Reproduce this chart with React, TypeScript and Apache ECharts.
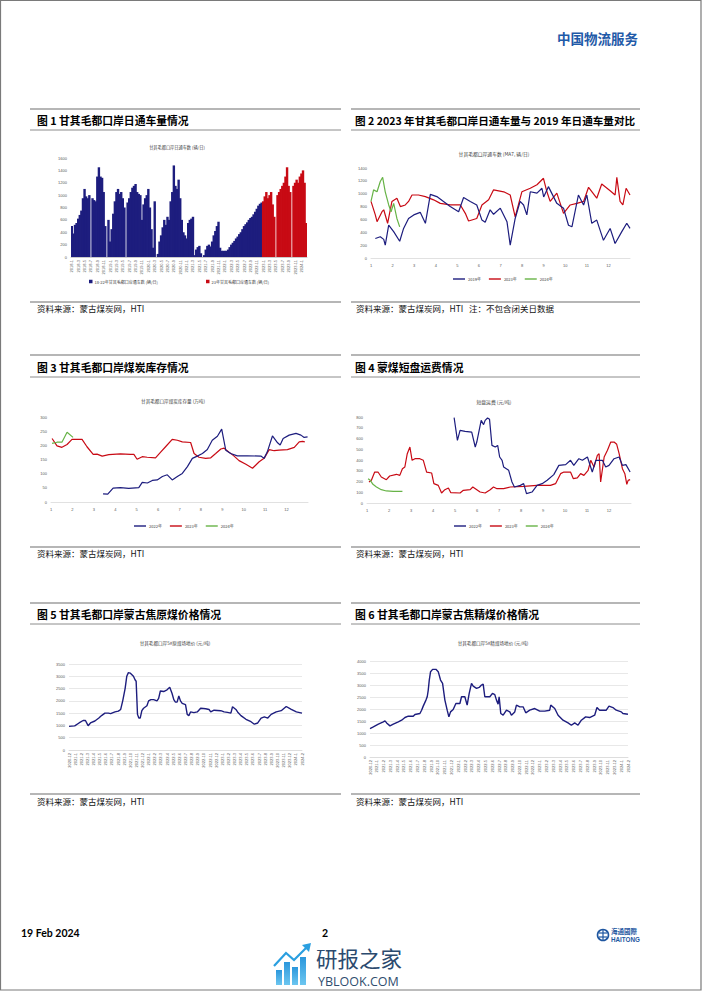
import React, { useEffect, useRef } from "react";
import * as echarts from "echarts";

// ---------------- data ----------------
// Fig 1: half-month bars, 2018-1 .. 2022-12 (blue) and 2023-1 .. 2024-2 (red)
const fig1Blue = [
  500, 380, 520, 550, 620, 680, 750, 950, 1100, 980, 950, 1000,
  0, 950, 920, 900, 1300, 1450, 1300, 1280, 1050, 500, 0, 600,
  250, 450, 700, 900, 1050, 1100, 1020, 1050, 950, 800, 0, 880,
  950, 1050, 1120, 1150, 1180, 1050, 1020, 1000, 600, 850, 950, 1000,
  1100, 800, 450, 150, 900, 0, 50, 250, 350, 480, 600, 520,
  650, 600, 900, 1050, 1480, 1150, 1100, 1250, 950, 600, 400, 350,
  300, 550, 600, 620, 650, 30, 120, 160, 180, 60, 0, 30,
  120, 180, 200, 170, 250, 350, 420, 500, 570, 150, 100, 100,
  100, 100, 120, 160, 200, 230, 260, 300, 330, 370, 400, 450,
  500, 530, 560, 600, 630, 650, 690, 730, 780, 830, 860, 880,
];
const fig1Red = [
  900, 980, 1050, 950, 1000, 1050, 850, 650, 0, 1000, 1050, 1100, 1150, 1200,
  1300, 1450, 1150, 1050, 0, 1150, 1200, 1250, 1200, 1300, 1350, 1400, 1200, 550,
];
const fig1Years = [2018, 2019, 2020, 2021, 2022, 2023, 2024];

// Fig 2: MA7 daily vehicles, [month, value]
const fig2Y2019 = [
  [1.2, 303], [1.43, 330], [1.59, 290], [1.66, 200], [1.82, 510], [2.05, 410], [2.33, 260], [2.51, 460],
  [2.74, 615], [2.98, 670], [3.28, 710], [3.52, 540], [3.75, 990], [4.05, 955], [4.36, 880], [4.67, 800],
  [5.06, 720], [5.29, 940], [5.6, 880], [5.9, 825], [6.14, 590], [6.29, 555], [6.52, 750], [6.68, 680],
  [6.99, 775], [7.3, 565], [7.45, 200], [7.68, 615], [7.91, 880], [8.07, 825], [8.22, 670], [8.38, 1030],
  [8.69, 1010], [8.92, 1085], [9.0, 950], [9.22, 1110], [9.61, 850], [9.92, 775], [10.15, 510], [10.31, 485],
  [10.61, 980], [10.85, 825], [11.0, 980], [11.23, 540], [11.46, 590], [11.77, 275], [12.08, 460], [12.31, 225],
  [12.62, 410], [12.85, 540], [13.0, 460],
];
const fig2Y2023 = [
  [1.0, 880], [1.2, 670], [1.28, 565], [1.51, 720], [1.59, 750], [1.77, 540], [1.97, 880], [2.2, 930],
  [2.36, 800], [2.59, 825], [2.74, 880], [2.9, 980], [3.2, 980], [3.52, 955], [3.9, 905], [4.21, 850],
  [4.67, 825], [5.14, 825], [5.37, 695], [5.52, 575], [5.9, 615], [6.14, 825], [6.45, 905], [6.68, 1060],
  [7.15, 1030], [7.45, 980], [7.68, 640], [7.99, 1030], [8.38, 1085], [8.69, 1140], [8.99, 1240], [9.15, 1030],
  [9.3, 880], [9.61, 1010], [9.92, 695], [10.23, 825], [10.54, 850], [10.85, 880], [11.08, 1100], [11.46, 930],
  [11.69, 1150], [12.08, 1045], [12.31, 980], [12.39, 1255], [12.54, 880], [12.67, 825], [12.82, 1085], [13.0, 980],
];
const fig2Y2024 = [
  [1.0, 880], [1.12, 1060], [1.28, 1030], [1.43, 1190], [1.54, 1255], [1.66, 1030], [1.82, 825], [1.93, 720],
  [2.05, 850], [2.2, 615], [2.33, 485],
];

// Fig 3: coal stock (10k t), [month, value]
const fig3Y2022 = [
  [3.43, 29], [3.65, 28], [3.9, 49], [4.24, 51], [4.63, 48], [4.95, 50], [5.1, 51], [5.26, 69], [5.5, 67],
  [5.73, 76], [5.96, 78], [6.2, 90], [6.43, 96], [6.66, 78], [6.9, 90], [7.13, 101], [7.37, 125], [7.6, 154],
  [7.83, 162], [8.07, 171], [8.3, 185], [8.53, 218], [8.77, 232], [8.97, 257], [9.16, 183], [9.39, 171],
  [9.7, 163], [10.17, 163], [10.8, 162], [10.95, 154], [11.1, 177], [11.34, 233], [11.58, 209], [11.7, 201],
  [11.84, 224], [12.12, 236], [12.44, 242], [12.67, 236], [12.82, 228], [12.98, 230],
];
const fig3Y2023 = [
  [1.05, 224], [1.28, 198], [1.51, 193], [1.75, 203], [1.98, 221], [2.45, 221], [2.68, 195], [2.97, 168],
  [3.15, 169], [3.39, 162], [3.7, 167], [4.24, 170], [4.71, 168], [4.87, 168], [5.02, 151], [5.26, 160],
  [5.49, 158], [5.88, 156], [6.12, 176], [6.35, 195], [6.66, 221], [6.9, 218], [7.13, 212], [7.52, 210],
  [7.68, 171], [7.91, 158], [8.22, 154], [8.46, 156], [8.69, 171], [8.93, 187], [9.08, 190], [9.31, 176],
  [9.55, 162], [9.78, 146], [10.1, 133], [10.41, 119], [10.72, 142], [10.95, 154], [11.19, 185], [11.42, 181],
  [11.65, 183], [12.04, 185], [12.36, 193], [12.59, 212], [12.75, 214], [12.85, 212],
];
const fig3Y2024 = [[1.05, 207], [1.28, 211], [1.51, 211], [1.75, 246], [2.03, 228]];

// Fig 4: short-haul freight (yuan/t), [month, value]
const fig4Y2022 = [
  [4.96, 794], [5.11, 583], [5.23, 676], [5.46, 667], [5.76, 660], [5.92, 521], [5.99, 567], [6.19, 769],
  [6.3, 729], [6.37, 769], [6.48, 791], [6.57, 778], [6.68, 536], [6.83, 521], [6.94, 536], [7.03, 428],
  [7.14, 397], [7.21, 335], [7.44, 304], [7.59, 195], [7.7, 149], [7.97, 164], [8.12, 180], [8.25, 87],
  [8.5, 102], [8.73, 164], [8.96, 180], [9.19, 211], [9.49, 264], [9.72, 350], [10.03, 357], [10.25, 397],
  [10.4, 350], [10.63, 412], [10.79, 397], [11.02, 428], [11.24, 288], [11.4, 397], [11.7, 397], [11.85, 335],
  [12.0, 350], [12.23, 412], [12.46, 428], [12.61, 350], [12.77, 357], [12.96, 288],
];
const fig4Y2023 = [
  [1.09, 195], [1.2, 211], [1.35, 288], [1.5, 288], [1.65, 242], [1.88, 217], [2.03, 251], [2.34, 267],
  [2.49, 257], [2.61, 319], [2.72, 335], [2.83, 459], [2.95, 521], [3.05, 397], [3.18, 412], [3.4, 412],
  [3.56, 397], [3.71, 288], [3.94, 279], [4.04, 180], [4.24, 164], [4.39, 93], [4.54, 124], [4.7, 140],
  [4.81, 96], [5.23, 93], [5.38, 118], [5.69, 124], [5.81, 149], [6.14, 102], [6.37, 93], [6.6, 124],
  [6.75, 149], [6.91, 133], [7.21, 133], [7.51, 149], [8.12, 155], [8.73, 164], [9.34, 164], [9.57, 180],
  [9.8, 273], [9.95, 288], [10.25, 288], [10.38, 226], [10.56, 233], [10.71, 273], [10.86, 257], [11.05, 304],
  [11.17, 397], [11.32, 335], [11.47, 443], [11.55, 459], [11.62, 195], [11.78, 428], [11.93, 490], [12.08, 567],
  [12.23, 567], [12.35, 546], [12.46, 459], [12.61, 319], [12.72, 273], [12.81, 174], [12.87, 211], [12.96, 217],
];
const fig4Y2024 = [[1.05, 226], [1.15, 211], [1.27, 174], [1.43, 149], [1.65, 124], [1.88, 112], [2.19, 109], [2.61, 109]];

// Fig 5 / 6: prices, [month index from 2020-12, value]
const fig5Raw = [
  [0, 960], [0.93, 980], [1.64, 1100], [2.3, 1200], [2.68, 1200], [3.12, 990], [3.5, 1100], [4.22, 1180],
  [4.87, 1300], [5.31, 1400], [5.86, 1500], [6.41, 1500], [6.79, 1480], [7.5, 1550], [8.05, 1580], [8.43, 1650],
  [8.76, 2000], [9.15, 2500], [9.42, 3000], [9.69, 3150], [9.97, 3130], [10.51, 3000], [10.79, 2850], [10.95, 2800],
  [11.17, 1450], [11.39, 1300], [11.61, 1300], [11.88, 1600], [12.16, 1700], [12.71, 1800], [12.98, 2000], [13.36, 2050],
  [13.8, 2050], [14.35, 2000], [14.62, 2100], [14.9, 2400], [15.44, 2380], [15.99, 2450], [16.43, 2550], [16.81, 2300],
  [17.09, 2050], [17.36, 1950], [17.63, 1950], [17.91, 2200], [18.18, 2000], [18.46, 1900], [19.0, 1850], [19.28, 1450],
  [19.55, 1400], [19.82, 1550], [20.37, 1520], [20.92, 1550], [21.47, 1700], [22.29, 1680], [22.84, 1650], [23.11, 1550],
  [23.66, 1620], [24.75, 1600], [25.3, 1550], [25.85, 1530], [26.4, 1500], [26.67, 1760], [27.22, 1650], [27.49, 1550],
  [28.04, 1400], [28.86, 1250], [29.68, 1150], [30.23, 1050], [30.78, 1100], [31.33, 1300], [31.87, 1350], [32.42, 1300],
  [32.97, 1450], [33.79, 1550], [34.61, 1600], [35.43, 1770], [36.25, 1650], [37.08, 1550], [38.0, 1500],
];
const fig6Clean = [
  [0, 1185], [0.49, 1255], [1.23, 1366], [1.96, 1464], [2.21, 1505], [2.45, 1420], [2.94, 1296], [3.43, 1366],
  [4.17, 1464], [4.66, 1533], [5.15, 1645], [5.64, 1700], [6.37, 1700], [6.62, 1770], [7.35, 1812], [7.6, 1950],
  [7.84, 2120], [8.24, 2370], [8.43, 2510], [8.58, 2790], [8.73, 3206], [8.92, 3555], [9.22, 3652], [9.71, 3652],
  [10.05, 3555], [10.39, 3206], [10.69, 3067], [11.03, 2370], [11.37, 1950], [11.62, 1673], [11.86, 1880], [12.25, 1980],
  [12.65, 2230], [13.24, 2230], [13.48, 2510], [13.97, 2510], [14.31, 2160], [14.61, 2650], [14.95, 3067], [15.2, 2955],
  [15.69, 2858], [16.08, 2900], [16.42, 3000], [16.67, 3040], [16.91, 2510], [17.65, 2510], [18.04, 2650], [18.38, 2600],
  [18.63, 2370], [18.87, 2200], [19.02, 2510], [19.26, 1812], [19.61, 1742], [20.1, 1950], [20.59, 1880], [20.83, 1742],
  [21.32, 1880], [21.57, 2160], [22.06, 2090], [22.55, 2090], [22.94, 1840], [23.53, 1950], [24.26, 2020], [25.0, 1910],
  [25.74, 1910], [26.47, 1950], [26.62, 2160], [27.21, 2020], [27.7, 1742], [28.43, 1533], [29.17, 1420], [29.66, 1324],
  [30.15, 1420], [30.64, 1324], [31.13, 1533], [31.76, 1673], [32.35, 1645], [33.09, 1742], [33.43, 2060], [33.82, 1950],
  [34.8, 1950], [35.2, 2120], [35.78, 2060], [36.27, 1950], [37.01, 1880], [37.25, 1812], [37.99, 1784],
];
const priceMonths: string[] = (() => {
  const out: string[] = ["2020-12"];
  for (let y = 2021; y <= 2024; y++) {
    for (let m = 1; m <= 12; m++) {
      if (y === 2024 && m > 2) break;
      out.push(`${y}-${m}`);
    }
  }
  return out;
})();

// ---------------- styles ----------------
const NAVY = "#1d1d7e";
const RED = "#c80a14";
const GREEN = "#67b347";
const NUMF = "'Liberation Sans', Arial, 'Noto Sans CJK SC', sans-serif";
const CJK = "'Noto Sans CJK SC', 'Liberation Sans', sans-serif";
const TICK = { fontSize: 4, color: "#595959", fontFamily: NUMF };

const BAR_BLUE = "18-22年甘其毛都口岸通车数 (辆/日)";
const BAR_RED = "23年甘其毛都口岸通车数 (辆/日)";

function buildOption(): any {
  const cats: string[] = [];
  for (const y of fig1Years) {
    for (let m = 1; m <= 12; m++) {
      if (y === 2024 && m > 2) break;
      cats.push(`${y}-${m}|a`, `${y}-${m}|b`);
    }
  }
  const blueData = cats.map((_, i) => (i < fig1Blue.length ? fig1Blue[i] : null));
  const redData = cats.map((_, i) => (i >= fig1Blue.length ? fig1Red[i - fig1Blue.length] ?? null : null));

  const grids = [
    { left: 71, top: 158, width: 236, height: 99 },
    { left: 371, top: 168, width: 259, height: 90 },
    { left: 51, top: 417, width: 257, height: 85 },
    { left: 367, top: 417, width: 264, height: 86 },
    { left: 69, top: 664, width: 233, height: 86 },
    { left: 370, top: 661, width: 258, height: 96 },
  ].map((g) => ({ ...g, containLabel: false, outerBoundsMode: "none" }));

  const yAxis = (gi: number, max: number, interval: number, split = false) => ({
    type: "value",
    gridIndex: gi,
    min: 0,
    max,
    interval,
    axisLine: { show: false },
    axisTick: { show: false },
    splitLine: { show: split, lineStyle: { color: "#d9d9d9", width: 0.6 } },
    axisLabel: { ...TICK, margin: 4, formatter: (v: number) => String(v) },
  });
  const monthX = (gi: number) => ({
    type: "value",
    gridIndex: gi,
    min: 1,
    max: 13,
    interval: 1,
    axisLine: { show: true, lineStyle: { color: "#d9d9d9", width: 0.8 } },
    axisTick: { show: false },
    splitLine: { show: false },
    axisLabel: { ...TICK, margin: 5, formatter: (v: number) => (v >= 13 ? "" : String(v)) },
  });
  const priceX = (gi: number) => ({
    type: "value",
    gridIndex: gi,
    min: 0,
    max: priceMonths.length - 1,
    interval: 1,
    axisLine: { show: true, lineStyle: { color: "#d9d9d9", width: 0.8 } },
    axisTick: { show: false },
    splitLine: { show: false },
    axisLabel: { ...TICK, rotate: 90, margin: 3, formatter: (v: number) => priceMonths[Math.round(v)] ?? "" },
  });
  const line = (name: string, data: number[][], color: string, gi: number, width = 1.2) => ({
    type: "line",
    name,
    xAxisIndex: gi,
    yAxisIndex: gi,
    data,
    showSymbol: false,
    symbol: "none",
    lineStyle: { color, width },
    itemStyle: { color },
    silent: true,
  });
  const lineLegend = (names: string[], left: number, top: number) => ({
    data: names,
    left,
    top,
    padding: 0,
    icon: "rect",
    itemWidth: 12,
    itemHeight: 1.4,
    itemGap: 8,
    textStyle: { fontSize: 4, color: "#404040", fontFamily: CJK, padding: [0, 0, 0, -2] },
    selectedMode: false,
  });

  const T = (text: string, x: number, y: number, o: any = {}) => ({
    type: "text",
    x,
    y,
    silent: true,
    style: {
      text,
      fontSize: o.fontSize ?? 6,
      fontWeight: o.fontWeight ?? "normal",
      fontFamily: o.fontFamily ?? CJK,
      fill: o.fill ?? "#000",
      align: o.align ?? "left",
      verticalAlign: "middle",
    },
  });
  const L = (x1: number, y1: number, x2: number, y2: number, stroke = "#808080", lineWidth = 1) => ({
    type: "line",
    silent: true,
    shape: { x1, y1, x2, y2 },
    style: { stroke, lineWidth },
  });

  const LX = [30, 341];
  const RX = [351, 640];
  const rows = [
    { top: 109, under: 130, src: 302, head: 120, srcText: 307.5 },
    { top: 355, under: 377, src: 547, head: 367, srcText: 553 },
    { top: 603, under: 624, src: 794, head: 614, srcText: 801 },
  ];
  const headings = [
    ["图 1 甘其毛都口岸日通车量情况", "图 2 2023 年甘其毛都口岸日通车量与 2019 年日通车量对比"],
    ["图 3 甘其毛都口岸煤炭库存情况", "图 4 蒙煤短盘运费情况"],
    ["图 5 甘其毛都口岸蒙古焦原煤价格情况", "图 6 甘其毛都口岸蒙古焦精煤价格情况"],
  ];
  const sources = [
    ["资料来源：蒙古煤炭网，HTI", "资料来源：蒙古煤炭网，HTI   注：不包含闭关日数据"],
    ["资料来源：蒙古煤炭网，HTI", "资料来源：蒙古煤炭网，HTI"],
    ["资料来源：蒙古煤炭网，HTI", "资料来源：蒙古煤炭网，HTI"],
  ];

  const elements: any[] = [
    { type: "rect", silent: true, shape: { x: 0.5, y: 0.5, width: 700.5, height: 989.5 }, style: { fill: "none", stroke: "#7a7a7a", lineWidth: 1.2 } },
    T("中国物流服务", 557, 38, { fontSize: 13.5, fontWeight: "bold", fill: "#1f5aa8" }),
    T("19 Feb 2024", 21, 933, { fontSize: 10.5, fontWeight: "bold", fontFamily: "Lato, 'Liberation Sans', sans-serif" }),
    T("2", 322, 933, { fontSize: 10.5, fontWeight: "bold", fontFamily: "Lato, 'Liberation Sans', sans-serif" }),
    // chart titles
    T("甘其毛都口岸日通车数 (辆/日)", 177, 147, { fontSize: 4.2, align: "center", fill: "#404040" }),
    T("甘其毛都口岸通车数 (MA7, 辆/日)", 494, 153, { fontSize: 4.8, align: "center", fill: "#404040" }),
    T("甘其毛都口岸煤炭库存量 (万吨)", 173, 401, { fontSize: 4.6, align: "center", fill: "#404040" }),
    T("短盘运费 (元/吨)", 494, 401, { fontSize: 4.8, align: "center", fill: "#404040" }),
    T("甘其毛都口岸5#原煤场地价 (元/吨)", 175, 643, { fontSize: 4.6, align: "center", fill: "#404040" }),
    T("甘其毛都口岸5#精煤场地价 (元/吨)", 493, 643, { fontSize: 4.6, align: "center", fill: "#404040" }),
  ];
  rows.forEach((r, i) => {
    [LX, RX].forEach((X, c) => {
      elements.push(L(X[0], r.top, X[1], r.top, "#6f6f6f", 1.2));
      elements.push(L(X[0], r.under, X[1], r.under, "#8c8c8c", 1));
      elements.push(L(X[0], r.src, X[1], r.src, "#6f6f6f", 1.2));
      elements.push(T(headings[i][c], X[0] + (c === 0 ? 7 : 4), r.head, { fontSize: i === 0 && c === 1 ? 10.6 : 10.8, fontWeight: "bold" }));
      elements.push(T(sources[i][c], X[0] + (c === 0 ? 7 : 5), r.srcText, { fontSize: 8.5, fill: "#111" }));
    });
  });

  // Haitong logo
  elements.push(
    { type: "circle", silent: true, shape: { cx: 603, cy: 935, r: 5.5 }, style: { fill: "none", stroke: "#1e56a0", lineWidth: 1.6 } },
    L(599, 933, 607, 933, "#1e56a0", 1.2),
    L(599, 937, 607, 937, "#1e56a0", 1.2),
    L(603, 930, 603, 940, "#1e56a0", 1.2),
    T("海通國際", 611, 930.5, { fontSize: 6.5, fill: "#1e56a0", fontWeight: "bold" }),
    T("HAITONG", 611, 939.5, { fontSize: 6.3, fill: "#1e56a0", fontWeight: "bold", fontFamily: NUMF })
  );
  // watermark
  const grad = new echarts.graphic.LinearGradient(0, 0, 0, 1, [
    { offset: 0, color: "#2b97dc" },
    { offset: 1, color: "#6cc6f0" },
  ]);
  [
    [276, 970, 6, 15],
    [284, 962, 6, 23],
    [292, 967, 6, 18],
    [300, 957, 6, 28],
  ].forEach(([x, y, w, h]) => elements.push({ type: "rect", silent: true, shape: { x, y, width: w, height: h }, style: { fill: grad } }));
  elements.push(
    { type: "polyline", silent: true, shape: { points: [[274, 966], [286, 953], [294, 960], [307, 947]] }, style: { stroke: "#2a9fe0", lineWidth: 2.2, fill: "none" } },
    { type: "polygon", silent: true, shape: { points: [[311, 943], [302, 945], [309, 952]] }, style: { fill: "#2a9fe0" } },
    T("研报之家", 316, 957, { fontSize: 21.5, fill: "#2b4a6e" }),
    T("YBLOOK.COM", 318, 981, { fontSize: 12.5, fill: "#2f4d6e", fontFamily: "'Open Sans', 'Liberation Sans', sans-serif" })
  );

  return {
    animation: false,
    backgroundColor: "#ffffff",
    grid: grids,
    xAxis: [
      {
        type: "category",
        gridIndex: 0,
        data: cats,
        boundaryGap: true,
        axisLine: { show: true, lineStyle: { color: "#bfbfbf", width: 0.8 } },
        axisTick: { show: false },
        axisLabel: { ...TICK, rotate: 90, interval: 3, margin: 3, formatter: (v: string) => v.split("|")[0] },
      },
      monthX(1),
      monthX(2),
      monthX(3),
      priceX(4),
      priceX(5),
    ],
    yAxis: [
      yAxis(0, 1600, 200),
      yAxis(1, 1400, 200),
      yAxis(2, 300, 50),
      yAxis(3, 800, 100),
      yAxis(4, 3500, 500, true),
      yAxis(5, 4000, 500, true),
    ],
    legend: [
      {
        data: [BAR_BLUE], left: 89, top: 279.5, padding: 0, icon: "rect", itemWidth: 3.5, itemHeight: 3.5, selectedMode: false,
        textStyle: { fontSize: 4, color: "#404040", fontFamily: CJK, padding: [0, 0, 0, -3] },
      },
      {
        data: [BAR_RED], left: 206, top: 279.5, padding: 0, icon: "rect", itemWidth: 3.5, itemHeight: 3.5, selectedMode: false,
        textStyle: { fontSize: 4, color: "#404040", fontFamily: CJK, padding: [0, 0, 0, -3] },
      },
      lineLegend(["2019年", "2023年", "2024年"], 453, 277),
      lineLegend(["2022年", "2023年", "2024年"], 134, 524),
      lineLegend(["2022年", "2023年", "2024年"], 454, 524),
    ],
    graphic: { elements },
    series: [
      { type: "bar", name: BAR_BLUE, xAxisIndex: 0, yAxisIndex: 0, data: blueData, barWidth: 2.4, barGap: "-100%", itemStyle: { color: NAVY }, silent: true },
      { type: "bar", name: BAR_RED, xAxisIndex: 0, yAxisIndex: 0, data: redData, barWidth: 2.4, barGap: "-100%", itemStyle: { color: RED }, silent: true },
      line("2023年", fig2Y2023, RED, 1),
      line("2019年", fig2Y2019, NAVY, 1),
      line("2024年", fig2Y2024, GREEN, 1),
      line("2023年", fig3Y2023, RED, 2),
      line("2022年", fig3Y2022, NAVY, 2),
      line("2024年", fig3Y2024, GREEN, 2),
      line("2023年", fig4Y2023, RED, 3),
      line("2022年", fig4Y2022, NAVY, 3),
      line("2024年", fig4Y2024, GREEN, 3),
      line("原煤", fig5Raw, NAVY, 4, 1.4),
      line("精煤", fig6Clean, NAVY, 5, 1.4),
    ],
  };
}

export default function App() {
  const ref = useRef<HTMLDivElement>(null);
  useEffect(() => {
    document.body.style.margin = "0";
    const chart = echarts.init(ref.current!, null, { renderer: "svg" });
    chart.setOption(buildOption());
    return () => chart.dispose();
  }, []);
  return (
    <div
      ref={ref}
      style={{ position: "absolute", left: 0, top: 0, width: 702, height: 991, background: "#fff" }}
    />
  );
}
